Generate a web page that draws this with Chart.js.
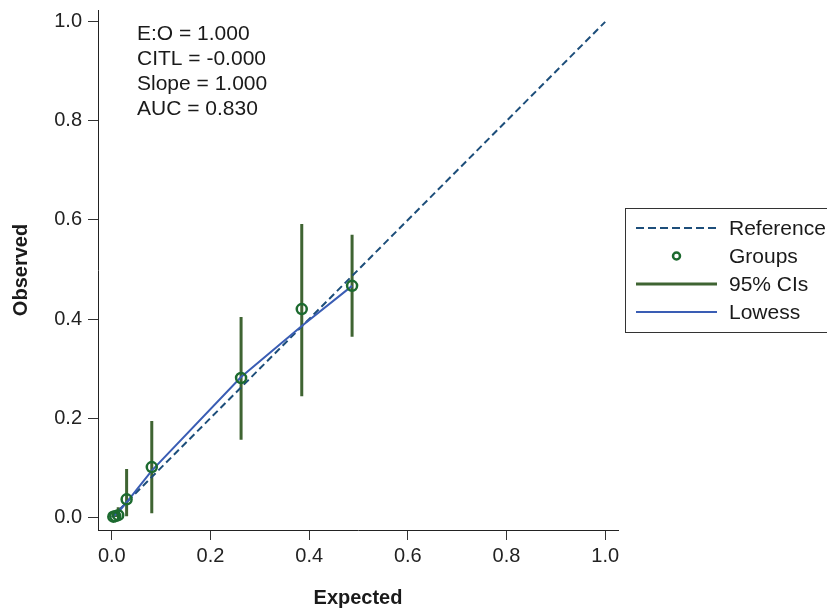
<!DOCTYPE html>
<html>
<head>
<meta charset="utf-8">
<script src="https://cdn.jsdelivr.net/npm/chart.js@4/dist/chart.umd.min.js"></script>
<style>
  html, body { margin: 0; padding: 0; background: #fff; }
  #wrap { width: 827px; height: 610px; }
</style>
</head>
<body>
<div id="wrap"><canvas id="calChart" width="827" height="610"></canvas></div>
<script>
// Calibration plot: observed vs expected risk by group

const tickValues = [0, 0.2, 0.4, 0.6, 0.8, 1.0];

// Reference line (perfect calibration)
const refX = [0, 1];
const refY = [0, 1];

// Grouped observed vs expected
const groupX = [0.003, 0.007, 0.013, 0.030, 0.081, 0.262, 0.385, 0.487];
const groupY = [0.001, 0.002, 0.004, 0.036, 0.101, 0.281, 0.420, 0.467];
const ciLow = [0.000, 0.000, 0.000, 0.002, 0.008, 0.156, 0.244, 0.364];
const ciHigh = [0.008, 0.012, 0.020, 0.097, 0.194, 0.404, 0.592, 0.570];

// Lowess smoother
const lowessX = [0.003, 0.007, 0.013, 0.030, 0.081, 0.262, 0.385, 0.487];
const lowessY = [0.002, 0.005, 0.010, 0.030, 0.094, 0.283, 0.386, 0.467];

// Stats shown in the top-left corner
const statLines = ['E:O = 1.000', 'CITL = -0.000', 'Slope = 1.000', 'AUC = 0.830'];

const legendLabels = ['Reference', 'Groups', '95% CIs', 'Lowess'];

const FONT = '"Liberation Sans", Arial, Helvetica, sans-serif';
const colRef = '#1d4e7a';
const colGroup = '#1c6a2f';
const colCI = '#3f6432';
const colLowess = '#3a5db4';

// CI segments joined into one dataset, broken by gaps
const ciData = [];
groupX.forEach((x, i) => {
  ciData.push({ x: x, y: ciLow[i] });
  ciData.push({ x: x, y: ciHigh[i] });
  ciData.push({ x: x, y: null });
});

const textPlugin = {
  id: 'statsAndLegend',
  afterDraw(chart) {
    const ctx = chart.ctx;
    ctx.save();
    ctx.fillStyle = '#1a1a1a';
    ctx.font = '21px ' + FONT;
    ctx.textAlign = 'left';
    ctx.textBaseline = 'middle';
    statLines.forEach((t, i) => ctx.fillText(t, 137, 34 + i * 25));

    // legend box
    ctx.strokeStyle = '#333';
    ctx.lineWidth = 1;
    ctx.strokeRect(625.5, 208.5, 260, 124);
    const rows = [228, 256, 284, 312];
    const x0 = 636, x1 = 717;
    // Reference
    ctx.strokeStyle = colRef;
    ctx.lineWidth = 2;
    ctx.setLineDash([8, 4]);
    ctx.beginPath(); ctx.moveTo(x0, rows[0]); ctx.lineTo(x1, rows[0]); ctx.stroke();
    ctx.setLineDash([]);
    // Groups
    ctx.strokeStyle = colGroup;
    ctx.lineWidth = 2.5;
    ctx.beginPath(); ctx.arc((x0 + x1) / 2, rows[1], 3.5, 0, Math.PI * 2); ctx.stroke();
    // CIs
    ctx.strokeStyle = colCI;
    ctx.lineWidth = 3;
    ctx.beginPath(); ctx.moveTo(x0, rows[2]); ctx.lineTo(x1, rows[2]); ctx.stroke();
    // Lowess
    ctx.strokeStyle = colLowess;
    ctx.lineWidth = 2;
    ctx.beginPath(); ctx.moveTo(x0, rows[3]); ctx.lineTo(x1, rows[3]); ctx.stroke();

    ctx.fillStyle = '#1a1a1a';
    legendLabels.forEach((t, i) => ctx.fillText(t, 729, rows[i] + 1));
    ctx.restore();
  }
};

const axisCommon = {
  type: 'linear',
  afterBuildTicks: (s) => { s.ticks = tickValues.map((v) => ({ value: v })); },
  grid: { display: true, drawOnChartArea: false, drawTicks: true, tickLength: 10, color: '#333', lineWidth: 1 },
  border: { display: true, color: '#222', width: 1 },
  ticks: {
    color: '#222',
    font: { family: FONT, size: 20 },
    callback: (v) => Number(v).toFixed(1)
  }
};

const ctx = document.getElementById('calChart').getContext('2d');

new Chart(ctx, {
  type: 'line',
  data: {
    datasets: [
      {
        label: 'Groups',
        type: 'scatter',
        data: groupX.map((x, i) => ({ x: x, y: groupY[i] })),
        showLine: false,
        pointStyle: 'circle',
        pointRadius: 5,
        pointBorderWidth: 2.5,
        pointBorderColor: colGroup,
        pointBackgroundColor: 'rgba(0,0,0,0)',
        order: 0
      },
      {
        label: 'Lowess',
        data: lowessX.map((x, i) => ({ x: x, y: lowessY[i] })),
        borderColor: colLowess,
        borderWidth: 2,
        pointRadius: 0,
        fill: false,
        tension: 0,
        order: 1
      },
      {
        label: 'Reference',
        data: refX.map((x, i) => ({ x: x, y: refY[i] })),
        borderColor: colRef,
        borderWidth: 2,
        borderDash: [7, 4],
        pointRadius: 0,
        fill: false,
        order: 2
      },
      {
        label: '95% CIs',
        data: ciData,
        borderColor: colCI,
        borderWidth: 3,
        pointRadius: 0,
        spanGaps: false,
        fill: false,
        order: 3
      }
    ]
  },
  options: {
    responsive: false,
    animation: false,
    layout: { padding: { top: 10, right: 209, left: 0, bottom: 0 } },
    plugins: {
      legend: { display: false },
      tooltip: { enabled: false }
    },
    scales: {
      x: Object.assign({}, axisCommon, {
        min: -0.028,
        max: 1.026,
        afterFit: (s) => { s.height = 80; s.paddingLeft = 0; s.paddingRight = 0; },
        ticks: Object.assign({}, axisCommon.ticks, { padding: 4, maxRotation: 0 }),
        title: {
          display: true,
          text: 'Expected',
          color: '#1a1a1a',
          font: { family: FONT, size: 20, weight: 'bold' },
          padding: { top: 0, bottom: 0 }
        }
      }),
      y: Object.assign({}, axisCommon, {
        min: -0.026,
        max: 1.024,
        afterFit: (s) => { s.width = 98; s.paddingTop = 0; s.paddingBottom = 0; },
        ticks: Object.assign({}, axisCommon.ticks, { padding: 6 }),
        title: {
          display: true,
          text: 'Observed',
          color: '#1a1a1a',
          font: { family: FONT, size: 20, weight: 'bold' },
          padding: { top: 9, bottom: 0 }
        }
      })
    }
  },
  plugins: [textPlugin]
});
</script>
</body>
</html>
